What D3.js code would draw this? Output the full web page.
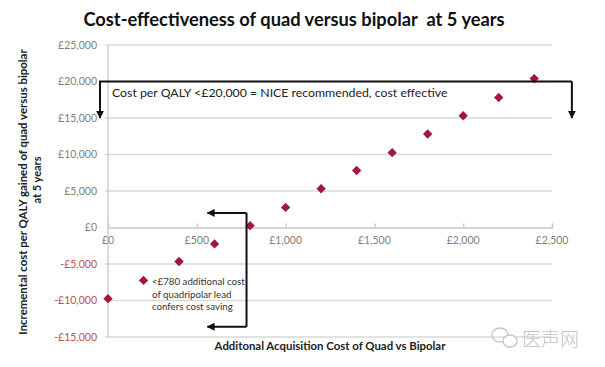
<!DOCTYPE html>
<html><head><meta charset="utf-8">
<script src="https://cdn.jsdelivr.net/npm/d3@7"></script>
<style>body{margin:0;background:#fff}svg{display:block}text{white-space:pre}</style>
</head><body>
<svg id="c" width="605" height="367"></svg>
<script>
const xValues = [0,200,400,600,800,1000,1200,1400,1600,1800,2000,2200,2400];
const yValues = [-9750,-7250,-4650,-2250,250,2750,5300,7800,10250,12800,15300,17800,20400];
const xTicks = [0,500,1000,1500,2000,2500];
const yTicks = [-15000,-10000,-5000,0,5000,10000,15000,20000,25000];
const title = "Cost-effectiveness of quad versus bipolar  at 5 years";
const yTitle1 = "Incremental cost per QALY gained of quad versus bipolar";
const yTitle2 = "at 5 years";
const xTitle = "Additonal Acquisition Cost of Quad vs Bipolar";
const note1 = "Cost per QALY <£20,000 = NICE recommended, cost effective";
const note2 = ["<£780 additional cost","of quadripolar lead","confers cost saving"];
const bracket1 = {xl:-45, xr:2612, yTop:20000, yBot:15000};
const bracket2 = {x:780, xTip:560, yTop:2000, yBot:-13600};

const svg = d3.select("#c");
const W=605,H=367;
const m={l:108,r:53,t:45,b:30};
const x=d3.scaleLinear().domain([0,2500]).range([m.l,W-m.r]);
const y=d3.scaleLinear().domain([-15000,25000]).range([H-m.b,m.t]);
const font="Lato, 'Open Sans', sans-serif";

svg.append("defs").append("marker").attr("id","ah").attr("viewBox","0 0 10 10")
 .attr("refX",9).attr("refY",5).attr("markerWidth",4).attr("markerHeight",4).attr("orient","auto")
 .append("path").attr("d","M0,0L10,5L0,10z").attr("fill","#111");

// title
svg.append("text").attr("x",294).attr("y",26).attr("text-anchor","middle")
 .attr("font-family",font).attr("font-weight","bold").attr("font-size",18.3).attr("fill","#111").text(title);

// gridlines
const fmt=v=>(v<0?"-":"")+"£"+d3.format(",")(Math.abs(v));
svg.append("g").selectAll("line").data(yTicks.filter(d=>d!==0)).join("line")
 .attr("x1",x(0)-3).attr("x2",x(2500)).attr("y1",d=>y(d)).attr("y2",d=>y(d))
 .attr("stroke","#d9d9d9").attr("stroke-width",1.3);
// y axis line
svg.append("line").attr("x1",x(0)).attr("x2",x(0)).attr("y1",y(25000)).attr("y2",y(-15000))
 .attr("stroke","#c8c8c8").attr("stroke-width",1.3);
// y labels
svg.append("g").selectAll("text").data(yTicks).join("text")
 .attr("x",x(0)-11).attr("y",d=>y(d)).attr("dy","0.35em").attr("text-anchor","end")
 .attr("font-family",font).attr("font-size",10.5)
 .attr("fill",d=>d<0?"#c0504d":"#808080").text(fmt);
// x axis at 0
const xa=svg.append("g").attr("transform",`translate(0,${y(0)})`)
 .call(d3.axisBottom(x).tickValues(xTicks).tickSize(-4).tickFormat(""));
xa.select(".domain").attr("stroke","#c8c8c8").attr("stroke-width",1.3);
xa.selectAll(".tick line").attr("stroke","#c8c8c8").attr("stroke-width",1.3);
svg.append("g").selectAll("text").data(xTicks).join("text")
 .attr("x",d=>x(d)).attr("y",y(0)+16).attr("text-anchor","middle")
 .attr("font-family",font).attr("font-size",10.5).attr("fill","#808080").text(fmt);

// points
svg.append("g").selectAll("path").data(xValues).join("path")
 .attr("d",d3.symbol(d3.symbolSquare,44))
 .attr("transform",(d,i)=>`translate(${x(d)},${y(yValues[i])}) rotate(45)`)
 .attr("fill","#a3173f");

// bracket 1
const ln={stroke:"#111","stroke-width":2,fill:"none"};
function path(d,arrow){const p=svg.append("path").attr("d",d);for(const k in ln)p.attr(k,ln[k]);if(arrow)p.attr("marker-end","url(#ah)");return p;}
path(`M${x(bracket1.xl)},${y(bracket1.yBot)}L${x(bracket1.xl)},${y(bracket1.yTop)}L${x(bracket1.xr)},${y(bracket1.yTop)}`);
path(`M${x(bracket1.xl)},${y(bracket1.yTop)}L${x(bracket1.xl)},${y(bracket1.yBot)}`,true);
path(`M${x(bracket1.xr)},${y(bracket1.yTop)}L${x(bracket1.xr)},${y(bracket1.yBot)}`,true);
svg.append("text").attr("x",112).attr("y",97).attr("font-family",font).attr("font-size",12.3)
 .attr("fill","#222").text(note1);

// bracket 2
path(`M${x(bracket2.x)},${y(bracket2.yTop)}L${x(bracket2.x)},${y(bracket2.yBot)}`);
path(`M${x(bracket2.x)},${y(bracket2.yTop)}L${x(bracket2.xTip)},${y(bracket2.yTop)}`,true);
path(`M${x(bracket2.x)},${y(bracket2.yBot)}L${x(bracket2.xTip)},${y(bracket2.yBot)}`,true);
svg.append("g").selectAll("text").data(note2).join("text")
 .attr("x",152).attr("y",(d,i)=>285+i*12.5).attr("font-family",font).attr("font-size",9.7)
 .attr("fill","#333").text(d=>d);

// axis titles
svg.append("text").attr("transform",`translate(27,192) rotate(-90)`).attr("text-anchor","middle")
 .attr("font-family",font).attr("font-weight","bold").attr("font-size",11.4).attr("fill","#222").text(yTitle1);
svg.append("text").attr("transform",`translate(41,180) rotate(-90)`).attr("text-anchor","middle")
 .attr("font-family",font).attr("font-weight","bold").attr("font-size",11).attr("fill","#222").text(yTitle2);
svg.append("text").attr("x",330).attr("y",350).attr("text-anchor","middle")
 .attr("font-family",font).attr("font-weight","bold").attr("font-size",11.4).attr("fill","#222").text(xTitle);

// watermark
const wm=svg.append("g").attr("stroke","#c4c4c4").attr("fill","none").attr("stroke-width",1.3);
wm.append("ellipse").attr("cx",500).attr("cy",335).attr("rx",8).attr("ry",7);
wm.append("ellipse").attr("cx",510).attr("cy",341).attr("rx",7).attr("ry",6).attr("fill","#fff");
svg.append("text").attr("x",522).attr("y",346).attr("font-family","'Noto Sans CJK SC'").attr("font-weight",300)
 .attr("font-size",19).attr("fill","#c4c4c4").text("医声网");
</script>
</body></html>
